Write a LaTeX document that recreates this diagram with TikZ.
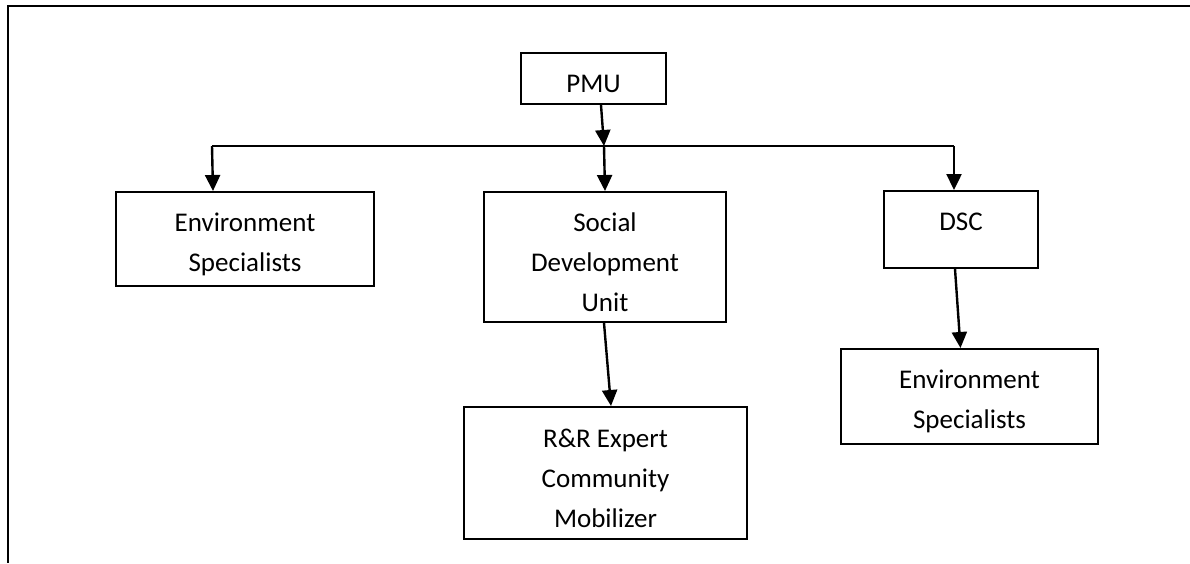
\documentclass[tikz,border=0pt]{standalone}
\usepackage{fontspec}
\setmainfont{Carlito}
\usetikzlibrary{arrows.meta}
\begin{document}
\begin{tikzpicture}[x=1pt,y=-1pt,
  box/.style={draw, line width=2pt, inner sep=0pt},
  txt/.style={align=center, font=\fontsize{27}{40}\selectfont, inner sep=0pt, yshift=-5pt},
  conn/.style={line width=2.4pt, -{Triangle[length=16pt,width=15pt]}},
  plain/.style={line width=2.4pt}]
\useasboundingbox (0,0) rectangle (1190,563);
\draw[line width=2.4pt] (1190,6) -- (8,6) -- (8,563);

\node[box, minimum width=145pt, minimum height=51pt, label={[txt]center:PMU}] (pmu) at (593.5,78.5) {};
\node[box, minimum width=258pt, minimum height=94pt, label={[txt]center:Environment\\Specialists}] (envL) at (245,239) {};
\node[box, minimum width=242pt, minimum height=130pt, label={[txt]center:Social\\Development\\Unit}] (sdu) at (605,257) {};
\node[box, minimum width=154pt, minimum height=77pt, label={[txt,yshift=12.5pt]center:DSC}] (dsc) at (961,229.5) {};
\node[box, minimum width=257pt, minimum height=95pt, label={[txt]center:Environment\\Specialists}] (envR) at (969.5,396.5) {};
\node[box, minimum width=283pt, minimum height=132pt, label={[txt]center:R\&R Expert\\Community\\Mobilizer}] (rr) at (605.5,473) {};

\coordinate (j) at (604,146);
\coordinate (L) at (212,146);
\coordinate (R) at (954,146);

\draw[plain] (L) -- (R);
\draw[conn] ([xshift=7.5pt]pmu.south) -- (j);
\draw[conn] (L) -- ([xshift=-32pt]envL.north);
\draw[conn] (j) -- ([xshift=0pt]sdu.north);
\draw[conn] (R) -- ([xshift=-7pt]dsc.north);
\draw[conn] ([xshift=-6pt]dsc.south) -- ([xshift=-9pt]envR.north);
\draw[conn] ([xshift=-1pt]sdu.south) -- ([xshift=5.5pt]rr.north);
\end{tikzpicture}
\end{document}
